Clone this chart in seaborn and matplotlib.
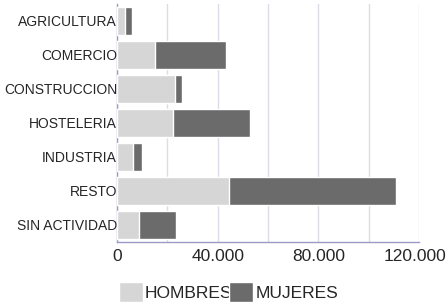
import numpy as np
import pandas as pd
import matplotlib
matplotlib.use("Agg")
import matplotlib.pyplot as plt
import matplotlib.ticker as mticker
import matplotlib.transforms as mtransforms
from matplotlib.patches import Patch
import seaborn as sns

categories = ["AGRICULTURA", "COMERCIO", "CONSTRUCCION", "HOSTELERIA",
              "INDUSTRIA", "RESTO", "SIN ACTIVIDAD"]
hombres = [3200, 15100, 23000, 22300, 6400, 44500, 8700]
mujeres = [2800, 28200, 2800, 30500, 3500, 66400, 14700]

df = pd.DataFrame({"sector": categories, "hombres": hombres, "mujeres": mujeres})
df["total"] = df["hombres"] + df["mujeres"]

light = "#d6d6d6"
dark = "#6b6b6b"

sns.set_style("white")
plt.rcParams["font.family"] = ["Liberation Sans", "DejaVu Sans"]

fig, ax = plt.subplots(figsize=(4.48, 3.03), dpi=100)
fig.subplots_adjust(left=117 / 448, right=419 / 448, top=1 - 4 / 303, bottom=1 - 242 / 303)

# stacked: total bar (mujeres colour) under the hombres bar
sns.barplot(data=df, y="sector", x="total", color=dark, saturation=1,
            width=0.8, orient="h", ax=ax, zorder=3)
sns.barplot(data=df, y="sector", x="hombres", color=light, saturation=1,
            width=0.8, orient="h", ax=ax, zorder=4)

ax.set_xlim(0, 120000)
ax.set_ylim(6.5, -0.5)
ax.xaxis.set_major_locator(mticker.FixedLocator([0, 40000, 80000, 120000]))
ax.xaxis.set_minor_locator(mticker.MultipleLocator(20000))
ax.xaxis.set_major_formatter(mticker.FuncFormatter(lambda v, p: f"{int(v):,}".replace(",", ".")))
ax.grid(axis="x", which="both", color="#dcdce8", linewidth=1, zorder=0)
ax.set_axisbelow(True)

ax.set_xlabel("")
ax.set_ylabel("")
ax.tick_params(axis="x", which="both", length=0, labelsize=12.5, pad=5)
ax.tick_params(axis="y", length=0, labelsize=10, pad=0)

# keep the last tick label inside the canvas
fig.canvas.draw()
for lab in ax.get_xticklabels():
    if lab.get_text() == "120.000":
        lab.set_transform(lab.get_transform() + mtransforms.ScaledTranslation(-4 / 100, 0, fig.dpi_scale_trans))

for side in ["top", "right"]:
    ax.spines[side].set_visible(False)
for side in ["left", "bottom"]:
    ax.spines[side].set_color("#9a9ac8")
    ax.spines[side].set_linewidth(1)

handles = [Patch(facecolor=light, label="HOMBRES"), Patch(facecolor=dark, label="MUJERES")]
fig.legend(handles=handles, loc="lower center", bbox_to_anchor=(0.51, -0.02), ncol=2,
           frameon=False, fontsize=12.5, handlelength=1.4, handleheight=1.4,
           handletextpad=0.1, columnspacing=-0.2, borderaxespad=0)

fig.savefig("out.png", dpi=100)
